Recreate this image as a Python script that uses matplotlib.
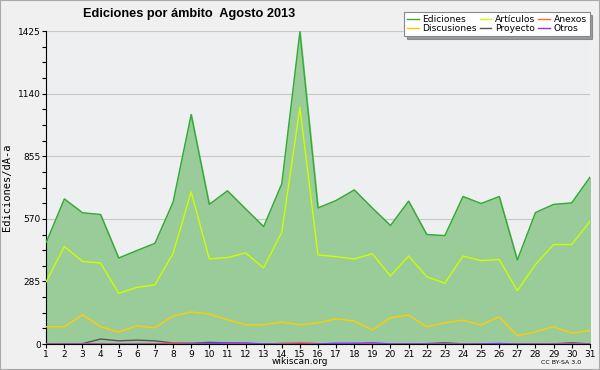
import numpy as np
import matplotlib
matplotlib.use("Agg")
import matplotlib.pyplot as plt
from matplotlib.ticker import MultipleLocator

# Datos (ediciones por día, agosto 2013)
dias = np.arange(1, 32)
ediciones = [463, 661, 598, 590, 392, 426, 459, 646, 1045, 636, 698, 616, 535, 730, 1422,
             620, 654, 702, 619, 540, 651, 499, 494, 672, 640, 672, 383, 599, 636, 643, 759]
articulos = [284, 444, 377, 369, 231, 258, 270, 413, 693, 388, 394, 415, 347, 509, 1077,
             406, 398, 388, 411, 310, 401, 307, 277, 401, 380, 385, 243, 362, 453, 453, 558]
discusiones = [79, 79, 134, 79, 55, 83, 74, 128, 146, 137, 111, 88, 88, 100, 88,
               97, 115, 105, 64, 120, 132, 79, 97, 109, 87, 125, 38, 56, 79, 50, 62]
proyecto = [0, 1, 2, 23, 15, 18, 15, 5, 4, 8, 5, 3, 0, 3, 3,
            2, 1, 2, 1, 0, 0, 2, 6, 1, 0, 1, 0, 2, 1, 6, 1]
anexos = [0, 0, 1, 2, 1, 2, 2, 4, 3, 2, 1, 1, 0, 2, 7,
          2, 1, 1, 1, 0, 0, 0, 1, 0, 0, 1, 0, 1, 1, 2, 0]
otros = [0, 0, 0, 0, 0, 0, 0, 0, 1, 2, 5, 5, 1, 0, 0,
         1, 4, 4, 6, 1, 1, 1, 0, 0, 1, 3, 0, 0, 0, 0, 0]

fig = plt.figure(figsize=(6, 3.7), dpi=100, facecolor="#f0f0f0")
ax = fig.add_axes([0.077, 0.070, 0.906, 0.846])
ax.set_facecolor("#eeeff0")

ax.fill_between(dias, ediciones, 0, color="#99cc99", zorder=1)
# orden de columnas para que la leyenda quede como en el original
ax.plot(dias, ediciones, color="#33aa33", lw=1, label="Ediciones", zorder=3)
ax.plot(dias, discusiones, color="#ffcc00", lw=1, label="Discusiones", zorder=3)
ax.plot(dias, articulos, color="#ccff00", lw=1, label="Artículos", zorder=3)
ax.plot(dias, proyecto, color="#555555", lw=1, label="Proyecto", zorder=3)
ax.plot(dias, anexos, color="#ff6633", lw=1, label="Anexos", zorder=3)
ax.plot(dias, otros, color="#8833ff", lw=1, label="Otros", zorder=3)

ax.set_xlim(1, 31)
ax.set_ylim(0, 1425)
ax.set_xticks(dias)
ax.set_yticks([0, 285, 570, 855, 1140, 1425])
ax.yaxis.set_minor_locator(MultipleLocator(71.25))
ax.tick_params(axis="both", labelsize=6.5, length=3, width=0.8, direction="out", pad=1)
ax.tick_params(axis="y", which="minor", length=3, width=0.8)
ax.grid(axis="y", color="#c8c8c8", lw=0.8, zorder=0)
ax.set_axisbelow(True)
for s in ["top", "right"]:
    ax.spines[s].set_visible(False)

ax.set_ylabel("Ediciones/dÃ-a", family="DejaVu Sans Mono", fontsize=7.5)
ax.yaxis.set_label_coords(-0.063, 0.5)
fig.text(0.315, 0.962, "Ediciones por ámbito  Agosto 2013", fontsize=9.2,
         family="Liberation Sans", fontweight="bold", ha="center", va="center")

leg = ax.legend(ncol=3, loc="upper right", bbox_to_anchor=(1.008, 1.075), fontsize=6.6,
                frameon=True, fancybox=False, shadow=True, handlelength=1.3,
                columnspacing=0.3, labelspacing=0.05, borderpad=0.3, handletextpad=0.4)
leg.get_frame().set_edgecolor("#888888")
leg.get_frame().set_facecolor("white")
leg.get_frame().set_linewidth(0.8)

fig.text(0.5, 0.022, "wikiscan.org", fontsize=6.5, ha="center", va="center")
fig.text(0.968, 0.020, "CC BY-SA 3.0", fontsize=4.5, ha="right", va="center")

fig.patches.append(plt.Rectangle((0, 0), 1, 1, transform=fig.transFigure,
                                 fill=False, edgecolor="#aaaaaa", lw=1.5))
fig.savefig("out.png", dpi=100, facecolor=fig.get_facecolor())
